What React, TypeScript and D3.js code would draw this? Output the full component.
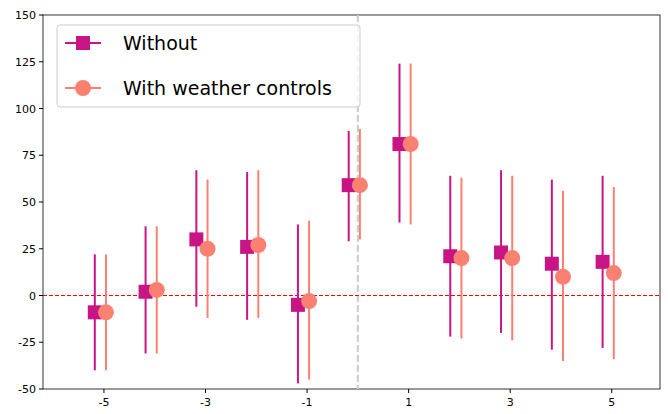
import * as d3 from "d3";

const periods = [-5, -4, -3, -2, -1, 0, 1, 2, 3, 4, 5];
const withoutEst = [-9, 2, 30, 26, -5, 59, 81, 21, 23, 17, 18];
const withoutLo = [-40, -31, -6, -13, -47, 29, 39, -22, -20, -29, -28];
const withoutHi = [22, 37, 67, 66, 38, 88, 124, 64, 67, 62, 64];
const withEst = [-9, 3, 25, 27, -3, 59, 81, 20, 20, 10, 12];
const withLo = [-40, -31, -12, -12, -45, 30, 38, -23, -24, -35, -34];
const withHi = [22, 37, 62, 67, 40, 89, 124, 63, 64, 56, 58];
const xTicks = [-5, -3, -1, 1, 3, 5];
const yTicks = [-50, -25, 0, 25, 50, 75, 100, 125, 150];

const W = 668, H = 414;
const m = { left: 43, right: 8, top: 15, bottom: 25 };
const C1 = "#C71585";
const C2 = "#FA8072";

export default function App() {
  const x = d3.scaleLinear().domain([-6.2, 5.95]).range([m.left, W - m.right]);
  const y = d3.scaleLinear().domain([-50, 150]).range([H - m.bottom, m.top]);
  const font = "DejaVu Sans, sans-serif";
  return (
    <svg width={W} height={H} style={{ position: "absolute", left: 0, top: 0 }} fontFamily={font}>
      <rect x={m.left} y={m.top} width={W - m.left - m.right} height={H - m.top - m.bottom} fill="white" stroke="black" strokeWidth={0.8} />
      <line x1={x(0)} x2={x(0)} y1={m.top} y2={H - m.bottom} stroke="#cccccc" strokeWidth={2} strokeDasharray="7,3" />
      <line x1={m.left} x2={W - m.right} y1={y(0)} y2={y(0)} stroke="red" strokeWidth={1} strokeDasharray="4,2" />
      {periods.map((p, i) => (
        <g key={p}>
          <line x1={x(p - 0.18)} x2={x(p - 0.18)} y1={y(withoutLo[i])} y2={y(withoutHi[i])} stroke={C1} strokeWidth={2} />
          <line x1={x(p + 0.04)} x2={x(p + 0.04)} y1={y(withLo[i])} y2={y(withHi[i])} stroke={C2} strokeWidth={2} />
          <rect x={x(p - 0.18) - 7} y={y(withoutEst[i]) - 7} width={14} height={14} fill={C1} />
          <circle cx={x(p + 0.04)} cy={y(withEst[i])} r={8} fill={C2} />
        </g>
      ))}
      {yTicks.map((t) => (
        <g key={t}>
          <line x1={m.left - 4} x2={m.left} y1={y(t)} y2={y(t)} stroke="black" />
          <text x={m.left - 7} y={y(t) + 4} textAnchor="end" fontSize={11}>{t}</text>
        </g>
      ))}
      {xTicks.map((t) => (
        <g key={t}>
          <line x1={x(t)} x2={x(t)} y1={H - m.bottom} y2={H - m.bottom + 4} stroke="black" />
          <text x={x(t)} y={H - m.bottom + 17} textAnchor="middle" fontSize={11}>{t}</text>
        </g>
      ))}
      <g>
        <rect x={57} y={25} width={303} height={82} rx={3} fill="white" fillOpacity={0.8} stroke="#cccccc" />
        <line x1={65} x2={101} y1={43} y2={43} stroke={C1} strokeWidth={2} />
        <rect x={76} y={36} width={14} height={14} fill={C1} />
        <text x={123} y={50} fontSize={19}>Without</text>
        <line x1={65} x2={101} y1={88} y2={88} stroke={C2} strokeWidth={2} />
        <circle cx={83} cy={88} r={8} fill={C2} />
        <text x={123} y={95} fontSize={19}>With weather controls</text>
      </g>
    </svg>
  );
}
